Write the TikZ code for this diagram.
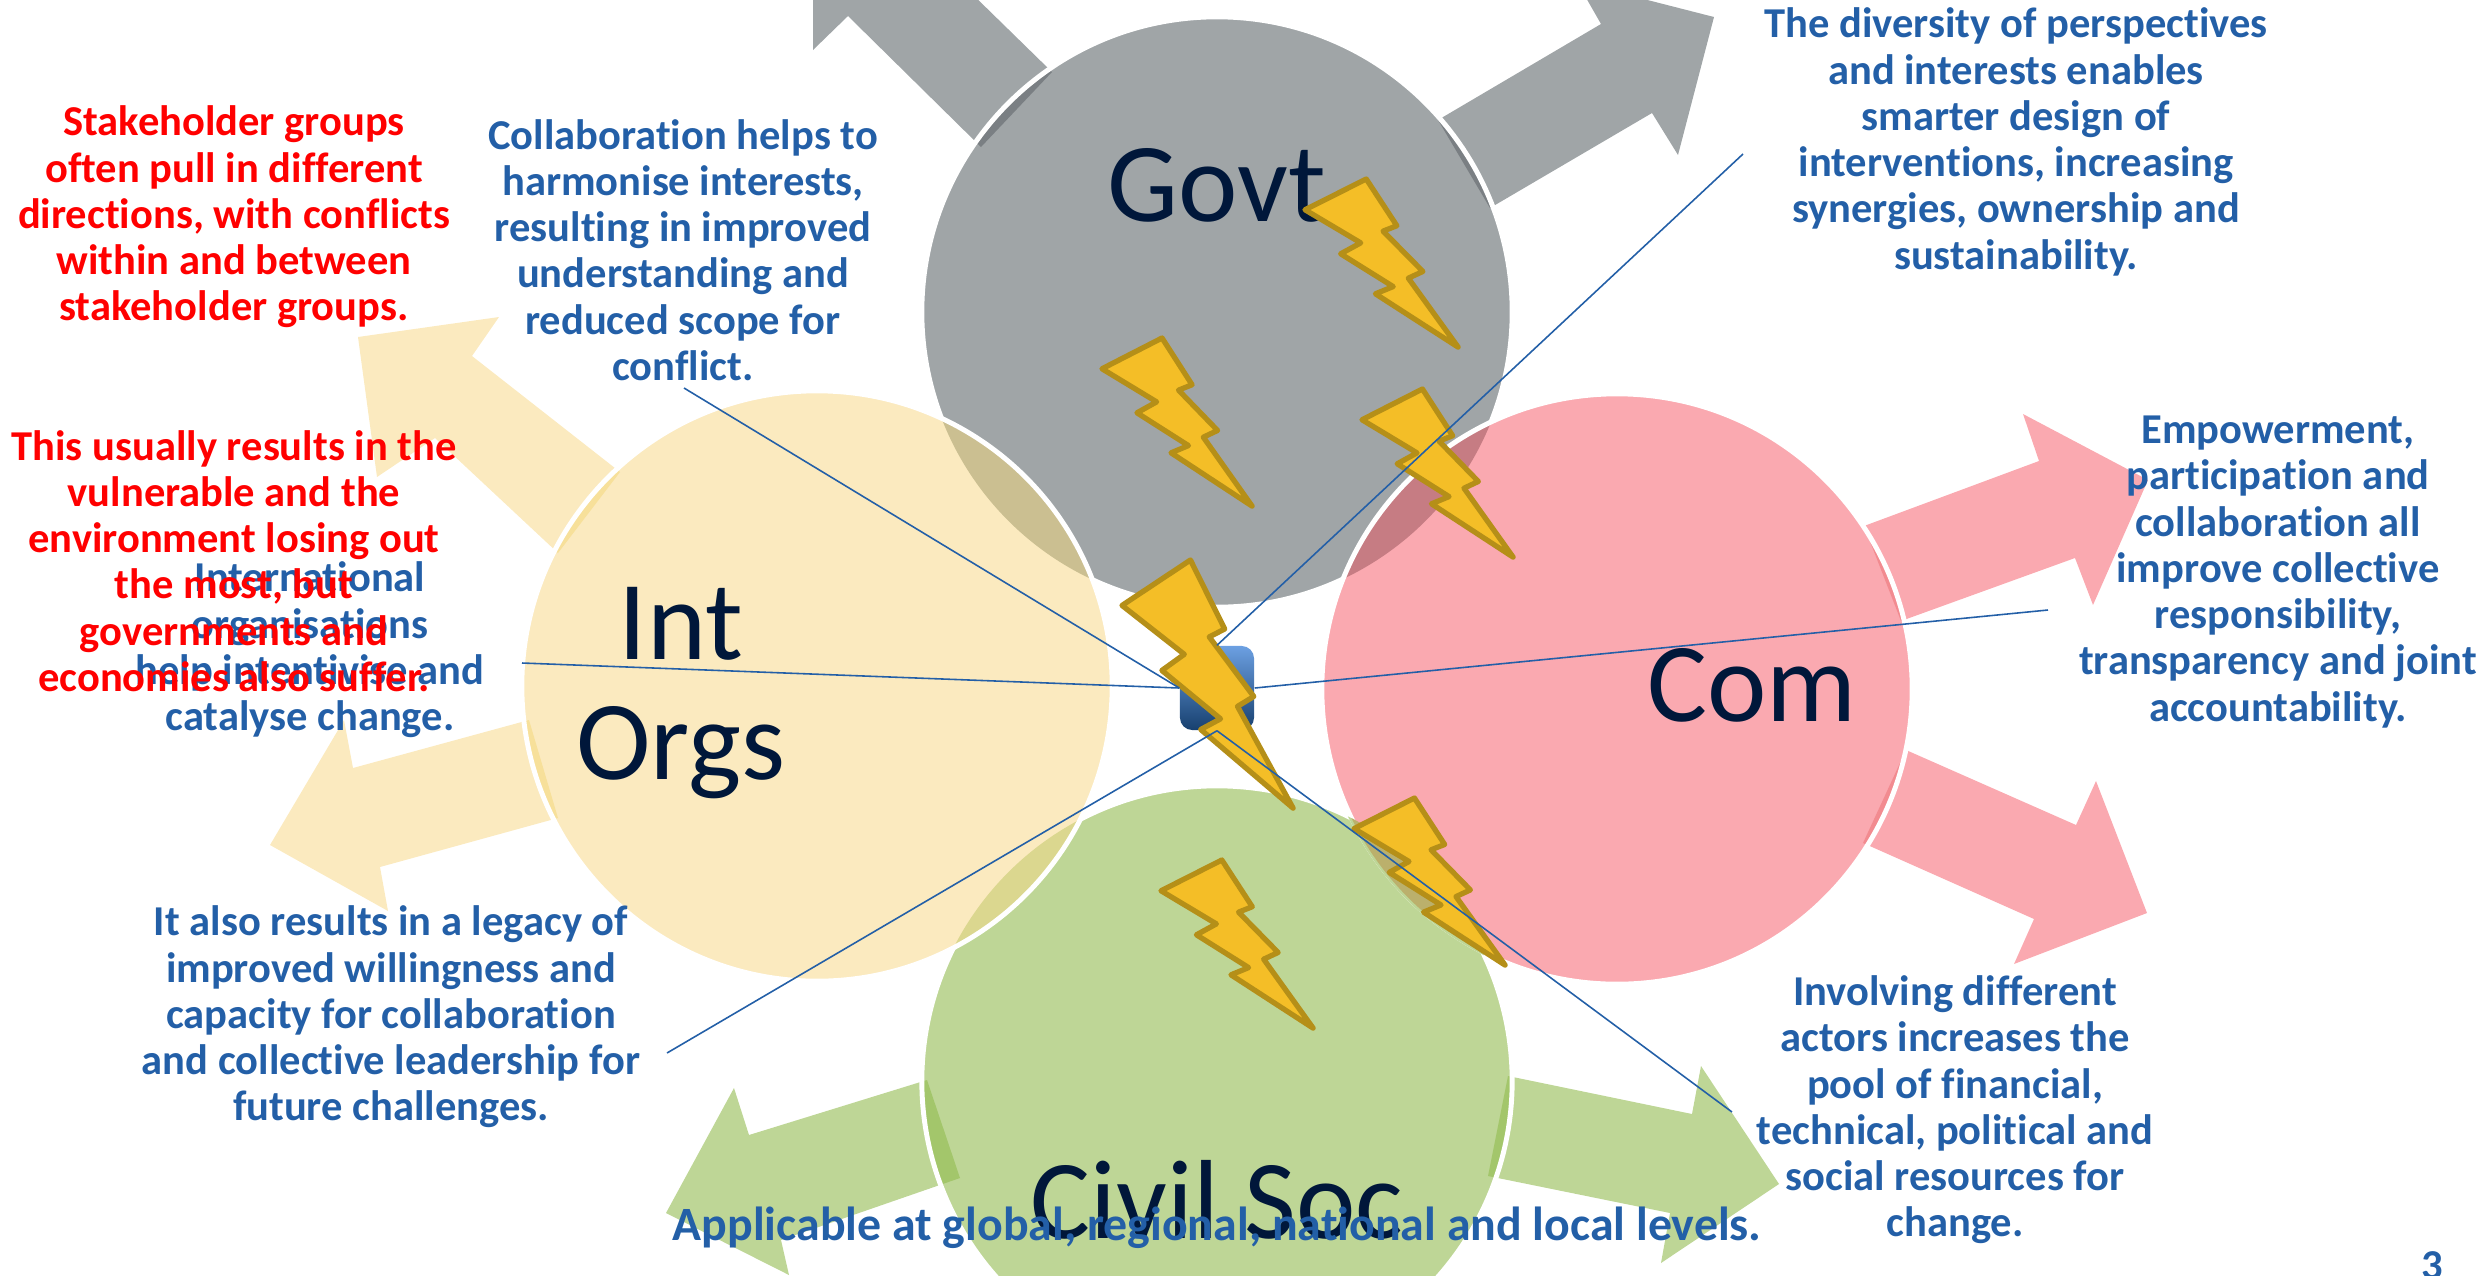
\documentclass[tikz,border=0pt]{standalone}
\usepackage{fontspec}
\setmainfont[Ligatures=CommonOff]{Carlito}
\usetikzlibrary{calc,positioning}
\definecolor{txtblue}{HTML}{235FA7}
\definecolor{txtdark}{HTML}{00173A}
\definecolor{govtcol}{HTML}{A0A5A7}
\definecolor{intcol}{HTML}{FBEABF}
\definecolor{comcol}{HTML}{FAA9B0}
\definecolor{civcol}{HTML}{BED696}
\definecolor{govtedge}{HTML}{7A7F83}
\definecolor{intedge}{HTML}{F7E09A}
\definecolor{comedge}{HTML}{F28B90}
\definecolor{civedge}{HTML}{A3C66B}
\definecolor{govtint}{HTML}{CBBF91}
\definecolor{govtcom}{HTML}{C67C83}
\definecolor{civint}{HTML}{DBD78F}
\definecolor{civcom}{HTML}{BBB06C}
\definecolor{hubtop}{HTML}{6CA0E2}
\definecolor{hubbot}{HTML}{17406F}
\definecolor{boltfill}{HTML}{F4BE27}
\definecolor{boltline}{HTML}{B58F18}
%%lightning bolt: left, top, width and height
\newcommand{\boltat}[4]{\begin{scope}[shift={(#1,#2)},x=#3cm,y=-#4cm]
	\draw [boltst] (.40,0)--(.60,.278)--(.51,.31)--(.77,.55)--(.675,.59)--(1,1)--(.46,.683)--(.576,.64)--(.233,.445)--(.364,.38)--(0,.183)--cycle;
	\end{scope}}
%%big arrows, base on the circle first
\newcommand{\arrGa}{(1052,72)--(921,-56)--(956,-90)--(813,-90)--(813,50)--(848,16)--(981,147)--cycle}
\newcommand{\arrGb}{(1438,120)--(1601,24)--(1577,-18)--(1714,17)--(1678,155)--(1652,113)--(1490,208)--cycle}
\newcommand{\arrIa}{(620,472)--(472,356)--(499,317)--(358,337)--(377,477)--(435,438)--(558,553)--cycle}
\newcommand{\arrIb}{(529,720)--(353,768)--(344,720)--(270,845)--(388,911)--(380,867)--(558,818)--cycle}
\newcommand{\arrCa}{(1864,526)--(2039,461)--(2023,414)--(2148,480)--(2093,605)--(2075,558)--(1901,621)--cycle}
\newcommand{\arrCb}{(1906,750)--(2076,825)--(2096,781)--(2147,913)--(2014,964)--(2034,919)--(1863,843)--cycle}
\newcommand{\arrSa}{(927,1080)--(749,1135)--(734,1088)--(666,1213)--(789,1275)--(781,1240)--(960,1178)--cycle}
\newcommand{\arrSb}{(1508,1076)--(1692,1114)--(1701,1066)--(1779,1184)--(1661,1263)--(1670,1213)--(1488,1176)--cycle}
\newcommand{\cGovt}{(1217,312) circle [radius=2.95cm]}
\newcommand{\cInt}{(817,686) circle [radius=2.95cm]}
\newcommand{\cCom}{(1617,689) circle [radius=2.95cm]}
\newcommand{\cCiv}{(1217,1081) circle [radius=2.95cm]}

\begin{document}
\begin{tikzpicture} [x=0.01cm,y=-0.01cm,{boltst/.style={draw=boltline,fill=boltfill,line width=1.5pt,line join=round}},{bodytxt/.style={align=center,inner sep=0pt,font=\fontsize{12.1}{13.15}\selectfont\bfseries}},{bluetxt/.style={bodytxt,text=txtblue}},{redtxt/.style={bodytxt,text=red}},{bigtxt/.style={align=center,inner sep=0pt,text=txtdark,font=\fontsize{32}{34}\selectfont}},{leader/.style={color=txtblue,line width=0.45pt}},{ring/.style={draw=white,line width=1.4pt}}]
	\useasboundingbox (0,0) rectangle (2484,1275);
	\clip (0,0) rectangle (2484,1275);
	%%arrows
	\fill [govtcol] \arrGa;
	\fill [govtcol] \arrGb;
	\fill [intcol] \arrIa;
	\fill [intcol] \arrIb;
	\fill [comcol] \arrCa;
	\fill [comcol] \arrCb;
	\fill [civcol] \arrSa;
	\fill [civcol] \arrSb;
	%%circles
	\fill [govtcol] \cGovt;
	\fill [civcol] \cCiv;
	%%where arrow bases go into the circles
	\begin{scope} \clip \cGovt; \fill [govtedge] \arrGa; \fill [govtedge] \arrGb; \end{scope}
	\begin{scope} \clip \cCiv; \fill [civedge] \arrSa; \fill [civedge] \arrSb; \end{scope}
	\draw [ring] \cGovt;
	\draw [ring] \cCiv;
	\fill [intcol] \cInt;
	\fill [comcol] \cCom;
	\begin{scope} \clip \cInt; \fill [intedge] \arrIa; \fill [intedge] \arrIb; \end{scope}
	\begin{scope} \clip \cCom; \fill [comedge] \arrCa; \fill [comedge] \arrCb; \end{scope}
	%%overlaps
	\begin{scope} \clip \cGovt; \fill [govtint] \cInt; \fill [govtcom] \cCom; \end{scope}
	\begin{scope} \clip \cCiv; \fill [civint] \cInt; \end{scope}
	%%white rims
	\draw [ring] \cInt;
	\draw [ring] \cCom;
	%%no rim where Com meets Civil Soc
	\begin{scope} \clip \cCiv; \draw [ring,draw=civcol] \cCom; \fill [civcom] \cCom; \end{scope}
	%%centre
	\node (hub) at (1217,688) [rectangle,rounded corners=3.5pt,minimum width=0.74cm,minimum height=0.84cm,inner sep=0pt,top color=hubtop,bottom color=hubbot] {};
	%%big labels
	\node (govt) at (1217,185) [bigtxt] {Govt};
	\node (intorgs) at (681,693) [bigtxt] {Int\\Orgs};
	\node (com) at (1752,685) [bigtxt] {Com};
	\node (civil) at (1217,1200) [bigtxt] {Civil Soc};
	%%bolts
	\boltat{1305}{179}{1.53}{1.68}
	\boltat{1102}{338}{1.50}{1.68}
	\boltat{1362}{389}{1.51}{1.68}
	\boltat{1354}{798}{1.51}{1.67}
	\boltat{1161}{860}{1.52}{1.68}
	\boltat{1122}{560}{1.71}{2.48}
	%%free ends of the leaders
	\coordinate (tr) at (1743,154);
	\coordinate (rr) at (2048,610);
	\coordinate (br) at (1732,1112);
	\coordinate (bl) at (667,1053);
	\coordinate (ll) at (522,663);
	\coordinate (tl) at (684,388);
	\draw [leader] (hub.north)--(tr);
	\draw [leader] (hub.east)--(rr);
	\draw [leader] (hub.south)--(br);
	\draw [leader] (hub.south)--(bl);
	\draw [leader] (hub.west)--(ll);
	\draw [leader] (hub.west)--(tl);
	%%texts
	\node (topright) at (2016,142) [bluetxt] {The diversity of perspectives\\and interests enables\\smarter design of\\interventions, increasing\\synergies, ownership and\\sustainability.};
	\node (collab) at (683,250) [bluetxt] {Collaboration helps to\\harmonise interests,\\resulting in improved\\understanding and\\reduced scope for\\conflict.};
	\node (intl) at (310,650) [bluetxt] {International\\organisations\\help intentivise and\\catalyse change.};
	\node (empower) at (2278,572) [bluetxt] {Empowerment,\\participation and\\collaboration all\\improve collective\\responsibility,\\transparency and joint\\accountability.};
	\node (actors) at (1955,1110) [bluetxt] {Involving different\\actors increases the\\pool of financial,\\technical, political and\\social resources for\\change.};
	\node (legacy) at (391,1017) [bluetxt] {It also results in a legacy of\\improved willingness and\\capacity for collaboration\\and collective leadership for\\future challenges.};
	\node (levels) at (1217,1228) [bluetxt,font=\fontsize{13.6}{15}\selectfont\bfseries] {Applicable at global, regional, national and local levels.};
	\node (pagenum) at (2432,1266) [bluetxt] {3};
	\node (conflict) at (234,217) [redtxt] {Stakeholder groups\\often pull in different\\directions, with conflicts\\within and between\\stakeholder groups.};
	\node (vulner) at (234,561) [redtxt] {This usually results in the\\vulnerable and the\\environment losing out\\the most, but\\governments and\\economies also suffer.};
\end{tikzpicture}
\end{document}
